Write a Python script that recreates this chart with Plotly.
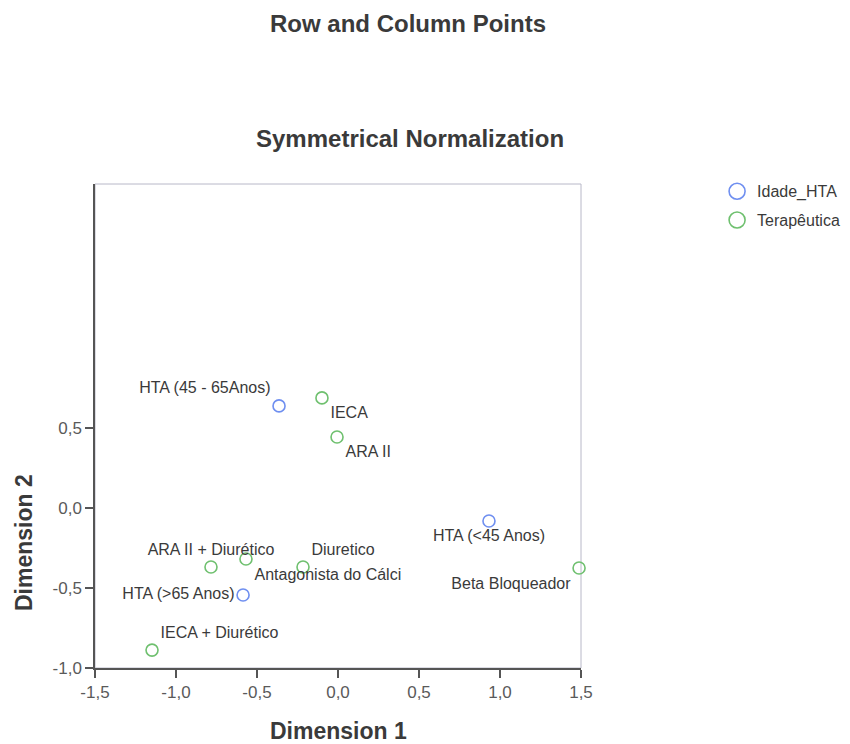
import plotly.graph_objects as go

# Row points (Idade_HTA)
row_labels = ["HTA (45 - 65Anos)", "HTA (<45 Anos)", "HTA (>65 Anos)"]
row_x = [-0.364, 0.932, -0.586]
row_y = [0.638, -0.081, -0.544]
row_pos = ["top left", "bottom center", "middle left"]

# Column points (Terapêutica)
col_labels = ["IECA", "ARA II", "Beta Bloqueador", "Diuretico",
              "Antagonista do Cálci", "ARA II + Diurético", "IECA + Diurético"]
col_x = [-0.099, -0.006, 1.488, -0.216, -0.568, -0.784, -1.148]
col_y = [0.688, 0.444, -0.375, -0.369, -0.319, -0.369, -0.888]
col_pos = ["bottom right", "bottom right", "bottom left", "top right",
           "bottom right", "top center", "top right"]

x_ticks = [-1.5, -1.0, -0.5, 0.0, 0.5, 1.0, 1.5]
x_tick_text = ["-1,5", "-1,0", "-0,5", "0,0", "0,5", "1,0", "1,5"]
y_ticks = [-1.0, -0.5, 0.0, 0.5]
y_tick_text = ["-1,0", "-0,5", "0,0", "0,5"]

FONT = "Liberation Sans, Arial, sans-serif"
TXT = "#3a3a3a"
BLUE = "#6f8ff0"
GREEN = "#6fc06f"

fig = go.Figure()
fig.add_trace(go.Scatter(
    x=row_x, y=row_y, mode="markers+text", name="Idade_HTA", showlegend=False,
    text=row_labels, textposition=row_pos,
    textfont=dict(family=FONT, size=16, color=TXT),
    marker=dict(symbol="circle-open", size=12, color=BLUE, line=dict(width=1.6)),
    cliponaxis=False,
))
fig.add_trace(go.Scatter(
    x=col_x, y=col_y, mode="markers+text", name="Terapêutica", showlegend=False,
    text=col_labels, textposition=col_pos,
    textfont=dict(family=FONT, size=16, color=TXT),
    marker=dict(symbol="circle-open", size=12, color=GREEN, line=dict(width=1.6)),
    cliponaxis=False,
))
# legend entries (larger symbols)
fig.add_trace(go.Scatter(x=[None], y=[None], mode="markers", name="Idade_HTA",
                         legendgroup="a",
                         marker=dict(symbol="circle-open", size=17, color=BLUE,
                                     line=dict(width=1.6))))
fig.add_trace(go.Scatter(x=[None], y=[None], mode="markers", name="Terapêutica",
                         legendgroup="b",
                         marker=dict(symbol="circle-open", size=17, color=GREEN,
                                     line=dict(width=1.6))))

fig.update_layout(
    width=834, height=736,
    margin=dict(l=87, r=261, t=176, b=76, autoexpand=False),
    paper_bgcolor="white", plot_bgcolor="white",
    font=dict(family=FONT, color=TXT),
    showlegend=True,
    legend=dict(x=1.28, y=1.02, xanchor="left", yanchor="top",
                font=dict(family=FONT, size=16, color=TXT),
                bgcolor="rgba(0,0,0,0)", tracegroupgap=5, itemsizing="trace",
                itemwidth=30),
    xaxis=dict(range=[-1.5, 1.5], tickvals=x_ticks, ticktext=x_tick_text,
               showgrid=False, zeroline=False, showline=True, linecolor="#555",
               linewidth=1.5, ticks="outside", ticklen=8, tickwidth=1.5,
               tickcolor="#555", tickfont=dict(size=17, color="#5a5a5a")),
    yaxis=dict(range=[-1.0, 2.025], tickvals=y_ticks, ticktext=y_tick_text,
               showgrid=False, zeroline=False, showline=True, linecolor="#555",
               linewidth=1.5, ticks="outside", ticklen=8, tickwidth=1.5,
               tickcolor="#555", tickfont=dict(size=17, color="#5a5a5a")),
    shapes=[dict(type="rect", xref="paper", yref="paper", x0=0, y0=0, x1=1, y1=1,
                 line=dict(color="#b8b8c8", width=1), layer="below")],
    annotations=[
        dict(text="<b>Row and Column Points</b>", xref="paper", yref="paper",
             x=(408 - 95) / 486, y=(668 - 23) / 484, xanchor="center", yanchor="middle",
             showarrow=False, font=dict(size=24, color=TXT)),
        dict(text="<b>Symmetrical Normalization</b>", xref="paper", yref="paper",
             x=(410 - 95) / 486, y=(668 - 139) / 484, xanchor="center", yanchor="middle",
             showarrow=False, font=dict(size=24, color=TXT)),
        dict(text="<b>Dimension 1</b>", xref="paper", yref="paper",
             x=(338 - 95) / 486, y=(668 - 731) / 484, xanchor="center", yanchor="middle",
             showarrow=False, font=dict(size=23, color=TXT)),
        dict(text="<b>Dimension 2</b>", xref="paper", yref="paper",
             x=(24 - 95) / 486, y=(668 - 543) / 484, xanchor="center", yanchor="middle",
             textangle=-90, showarrow=False, font=dict(size=23, color=TXT)),
    ],
)

fig.write_html("out.html")
